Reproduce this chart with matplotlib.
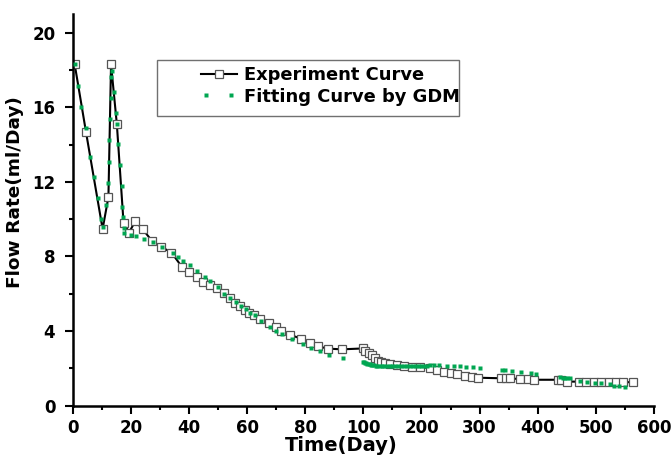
import numpy as np
import matplotlib
matplotlib.use('Agg')
import matplotlib.pyplot as plt
from matplotlib.legend_handler import HandlerLine2D
from matplotlib.patches import Rectangle

plt.rcParams['font.family'] = 'DejaVu Sans'
plt.rcParams['font.weight'] = 'bold'

# experiment curve (day, ml/day)
exp_t = [0.7, 4.6, 10.3, 12.3, 13.2, 15.2, 17.5, 19.4, 21.5, 24.1, 27.2, 30.4,
         34.0, 37.6, 40.1, 42.8, 45.0, 47.1, 49.5, 51.9, 54.0, 56.0, 57.7, 59.4,
         60.6, 62.3, 64.6, 67.5, 69.8, 71.7, 74.9, 78.7, 81.6, 84.5, 87.8, 92.6,
         100, 103, 109, 115, 119.5, 124.7, 130.5, 136.7, 146.5, 158, 169.5, 184,
         198, 215.5, 227, 238.5, 250, 261.5, 274, 287, 297, 336, 345, 353, 369.5,
         384, 394, 434, 440, 451, 471, 483, 497, 509, 523, 534.5, 546, 563]
exp_q = [18.3, 14.66, 9.47, 11.19, 18.3, 15.09, 9.81, 9.28, 9.89, 9.46, 8.85, 8.52,
         8.21, 7.44, 7.17, 6.89, 6.65, 6.48, 6.30, 6.03, 5.79, 5.52, 5.35, 5.13,
         4.95, 4.85, 4.65, 4.45, 4.20, 4.02, 3.79, 3.59, 3.38, 3.18, 3.06, 3.02,
         3.07, 2.95, 2.84, 2.72, 2.54, 2.41, 2.33, 2.27, 2.22, 2.17, 2.13, 2.09,
         2.07, 2.02, 1.91, 1.82, 1.74, 1.68, 1.59, 1.52, 1.50, 1.47, 1.47, 1.47, 1.42,
         1.42, 1.39, 1.39, 1.39, 1.29, 1.29, 1.29, 1.26, 1.26, 1.26, 1.26, 1.26, 1.26]

# fitting curve by GDM
fit_t = [0.7, 1.9, 3.0, 4.5, 6.0, 7.3, 8.6, 9.9, 10.4, 11.5, 12.3, 12.5, 12.6,
         12.9, 13.1, 13.3, 13.4, 14.1, 14.9, 15.2, 15.7, 16.3, 16.8, 17.1, 17.3,
         17.5, 17.8, 20.0, 21.8, 24.5, 27.6, 30.8, 34.5, 36.4, 38.1, 40.4, 42.9,
         45.4, 47.3, 49.9, 52.2, 54.2, 56.2, 57.9, 59.7, 60.9, 62.6, 64.9, 68.0,
         70.0, 72.1, 75.3, 79.3, 82.1, 85.0, 88.1, 93.1,
         100, 101.5, 103.4, 105, 107, 109, 111, 113, 115, 118, 121, 124, 128, 132,
         136, 140, 145, 150, 155, 160, 165, 170, 175, 180, 185, 190, 195, 200, 205,
         210, 215, 222, 230, 244, 256, 266, 277, 289, 301, 338, 344, 355.5, 371.5,
         388, 397, 438.5, 443, 447, 451, 455, 473, 484.6, 498.8, 509, 523.5, 531.5,
         540.6, 550.4]
fit_q = [18.3, 17.14, 16.03, 14.87, 13.35, 12.25, 11.12, 10.0, 9.6, 10.76, 11.92,
         13.08, 14.25, 15.36, 16.48, 17.64, 17.95, 16.8, 15.68, 15.1, 14.03, 12.89,
         11.78, 10.64, 10.1, 9.51, 9.24, 9.16, 9.1, 8.95, 8.78, 8.52, 8.2, 7.96,
         7.78, 7.53, 7.22, 6.92, 6.69, 6.35, 5.99, 5.77, 5.54, 5.35, 5.17, 4.99,
         4.86, 4.56, 4.24, 4.02, 3.84, 3.56, 3.29, 3.08, 2.95, 2.73, 2.55,
         2.36, 2.33, 2.30, 2.27, 2.25, 2.23, 2.21, 2.20, 2.18, 2.16, 2.14, 2.14,
         2.13, 2.13, 2.12, 2.12, 2.12, 2.12, 2.12, 2.12, 2.12, 2.12, 2.13, 2.13,
         2.13, 2.13, 2.14, 2.14, 2.15, 2.15, 2.16, 2.16, 2.16, 2.15, 2.13, 2.12,
         2.09, 2.06, 2.04, 1.90, 1.90, 1.86, 1.79, 1.74, 1.70, 1.52, 1.51, 1.50,
         1.50, 1.48, 1.34, 1.29, 1.23, 1.20, 1.15, 1.08, 1.06, 1.00]

x_major = [0, 20, 40, 60, 80, 100, 200, 300, 400, 500, 600]
x_minor = [10, 30, 50, 70, 90, 150, 250, 350, 450, 550]


# axis is linear 0-100, then compressed 5x from 100 to 600
def fwd(x):
    x = np.asarray(x, dtype=float)
    return np.where(x <= 100, x, 100 + (x - 100) / 5.0)


def inv(y):
    y = np.asarray(y, dtype=float)
    return np.where(y <= 100, y, 100 + (y - 100) * 5.0)


fig = plt.figure(figsize=(6.71, 4.61), dpi=100)
ax = fig.add_axes([0.1083, 0.12, 0.8664, 0.8496])
ax.set_xscale('function', functions=(fwd, inv))

l1, = ax.plot(exp_t, exp_q, '-', color='black', lw=1.5, marker='s', ms=5.2,
              mfc='white', mec='#555555', mew=0.9, label='Experiment Curve', zorder=2)
l2, = ax.plot(fit_t, fit_q, ls='none', marker='s', ms=2.8, color='#00a651',
              mec='none', label='Fitting Curve by GDM', zorder=3)

ax.set_xlim(0, 600)
ax.set_ylim(0, 21)
ax.set_xticks(x_major)
ax.set_xticks(x_minor, minor=True)
ax.set_xticklabels([str(v) for v in x_major])
ax.set_yticks([0, 4, 8, 12, 16, 20])
ax.set_yticks([2, 6, 10, 14, 18], minor=True)

for s in ['top', 'right']:
    ax.spines[s].set_visible(False)
for s in ['left', 'bottom']:
    ax.spines[s].set_linewidth(1.8)
ax.tick_params(which='major', length=5.5, width=1.5, labelsize=12, pad=4)
ax.tick_params(which='minor', length=3, width=1.5)
ax.tick_params(axis='y', which='major', pad=7)

ax.set_xlabel('Time(Day)', fontsize=14, fontweight='bold')
ax.xaxis.set_label_coords(0.462, -0.078)
ax.set_ylabel('Flow Rate(ml/Day)', fontsize=13.3, fontweight='bold')
ax.yaxis.set_label_coords(-0.084, 0.5456)

ax.add_patch(Rectangle((0.145, 0.7396), 0.5195, 0.143, transform=ax.transAxes,
                       fill=False, edgecolor='#707070', lw=1.0, zorder=4, clip_on=False))
ax.legend(handles=[l1, l2], loc='upper left', bbox_to_anchor=(0.2202, 0.867),
          frameon=False, borderpad=0, borderaxespad=0, handlelength=2.0,
          handletextpad=0.42, labelspacing=0.2, fontsize=12.9,
          handler_map={l1: HandlerLine2D(numpoints=1), l2: HandlerLine2D(numpoints=2)})

fig.savefig('out.png', dpi=100)
